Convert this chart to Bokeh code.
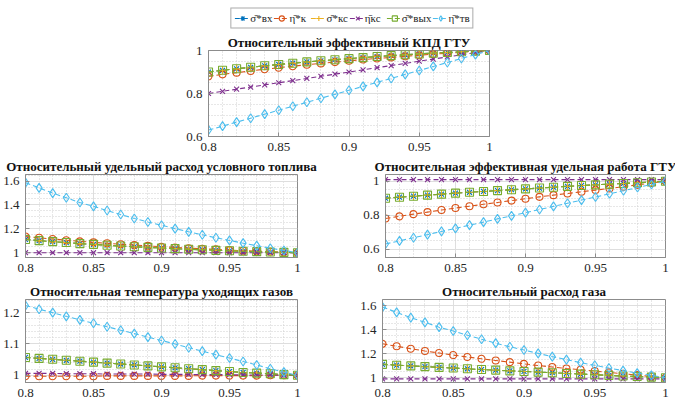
from bokeh.plotting import figure
from bokeh.models import (Range1d, FixedTicker, NumeralTickFormatter, Legend,
                          LegendItem, Title, Spacer)
from bokeh.layouts import column, row
from bokeh.embed import file_html
from bokeh.resources import INLINE

# ---------------- data ----------------
x = [0.80, 0.81, 0.82, 0.83, 0.84, 0.85, 0.86, 0.87, 0.88, 0.89, 0.90,
     0.91, 0.92, 0.93, 0.94, 0.95, 0.96, 0.97, 0.98, 0.99, 1.00]

labels = ["σ̄*вх", "η̄*к", "σ̄*кс", "η̄кс", "σ̄*вых", "η̄*тв"]

# Относительный эффективный КПД ГТУ
eff_sig_vx = [0.900, 0.908, 0.915, 0.922, 0.929, 0.935, 0.941, 0.947, 0.952, 0.957, 0.962,
              0.967, 0.972, 0.976, 0.980, 0.984, 0.988, 0.991, 0.994, 0.997, 1.000]
eff_eta_k = [0.880, 0.889, 0.897, 0.905, 0.913, 0.920, 0.927, 0.934, 0.940, 0.946, 0.952,
             0.958, 0.963, 0.968, 0.973, 0.978, 0.983, 0.987, 0.992, 0.996, 1.000]
eff_sig_ks = [0.900, 0.908, 0.915, 0.922, 0.929, 0.935, 0.941, 0.947, 0.952, 0.957, 0.962,
              0.967, 0.972, 0.976, 0.980, 0.984, 0.988, 0.991, 0.994, 0.997, 1.000]
eff_eta_ks = [0.800, 0.810, 0.820, 0.830, 0.840, 0.850, 0.860, 0.870, 0.880, 0.890, 0.900,
              0.910, 0.920, 0.930, 0.940, 0.950, 0.960, 0.970, 0.980, 0.990, 1.000]
eff_sig_vyh = [0.900, 0.908, 0.915, 0.922, 0.929, 0.935, 0.941, 0.947, 0.952, 0.957, 0.962,
               0.967, 0.972, 0.976, 0.980, 0.984, 0.988, 0.991, 0.994, 0.997, 1.000]
eff_eta_tv = [0.630, 0.648, 0.667, 0.685, 0.704, 0.722, 0.741, 0.759, 0.778, 0.796, 0.815,
              0.833, 0.852, 0.870, 0.889, 0.907, 0.926, 0.944, 0.963, 0.981, 1.000]

# Относительный удельный расход условного топлива
fuel_sig_vx = [1.111, 1.101, 1.093, 1.085, 1.076, 1.070, 1.063, 1.056, 1.050, 1.045, 1.040,
               1.034, 1.029, 1.025, 1.020, 1.016, 1.012, 1.009, 1.006, 1.003, 1.000]
fuel_eta_k = [1.136, 1.125, 1.115, 1.105, 1.095, 1.087, 1.079, 1.071, 1.064, 1.057, 1.050,
              1.044, 1.038, 1.033, 1.028, 1.022, 1.017, 1.013, 1.008, 1.004, 1.000]
fuel_sig_ks = [1.111, 1.101, 1.093, 1.085, 1.076, 1.070, 1.063, 1.056, 1.050, 1.045, 1.040,
               1.034, 1.029, 1.025, 1.020, 1.016, 1.012, 1.009, 1.006, 1.003, 1.000]
fuel_eta_ks = [1.000, 1.000, 1.000, 1.000, 1.000, 1.000, 1.000, 1.000, 1.000, 1.000, 1.000,
               1.000, 1.000, 1.000, 1.000, 1.000, 1.000, 1.000, 1.000, 1.000, 1.000]
fuel_sig_vyh = [1.111, 1.101, 1.093, 1.085, 1.076, 1.070, 1.063, 1.056, 1.050, 1.045, 1.040,
                1.034, 1.029, 1.025, 1.020, 1.016, 1.012, 1.009, 1.006, 1.003, 1.000]
fuel_eta_tv = [1.587, 1.543, 1.499, 1.460, 1.420, 1.388, 1.353, 1.320, 1.287, 1.257, 1.230,
               1.202, 1.175, 1.150, 1.125, 1.103, 1.080, 1.059, 1.038, 1.019, 1.000]

# Относительная эффективная удельная работа ГТУ
work_sig_vx = [0.900, 0.906, 0.912, 0.918, 0.924, 0.930, 0.935, 0.940, 0.945, 0.950, 0.955,
               0.960, 0.965, 0.970, 0.975, 0.979, 0.983, 0.987, 0.991, 0.996, 1.000]
work_eta_k = [0.780, 0.793, 0.806, 0.818, 0.830, 0.842, 0.853, 0.864, 0.875, 0.886, 0.897,
              0.908, 0.918, 0.928, 0.938, 0.948, 0.958, 0.968, 0.979, 0.990, 1.000]
work_sig_ks = [0.900, 0.906, 0.912, 0.918, 0.924, 0.930, 0.935, 0.940, 0.945, 0.950, 0.955,
               0.960, 0.965, 0.970, 0.975, 0.979, 0.983, 0.987, 0.991, 0.996, 1.000]
work_eta_ks = [1.010, 1.010, 1.010, 1.010, 1.010, 1.010, 1.010, 1.010, 1.010, 1.010, 1.010,
               1.010, 1.010, 1.010, 1.010, 1.010, 1.010, 1.010, 1.010, 1.010, 1.010]
work_sig_vyh = [0.900, 0.906, 0.912, 0.918, 0.924, 0.930, 0.935, 0.940, 0.945, 0.950, 0.955,
                0.960, 0.965, 0.970, 0.975, 0.979, 0.983, 0.987, 0.991, 0.996, 1.000]
work_eta_tv = [0.630, 0.648, 0.667, 0.685, 0.704, 0.722, 0.741, 0.759, 0.778, 0.796, 0.815,
               0.833, 0.852, 0.870, 0.889, 0.907, 0.926, 0.944, 0.963, 0.981, 1.000]

# Относительная температура уходящих газов
temp_sig_vx = [1.057, 1.054, 1.051, 1.048, 1.045, 1.042, 1.039, 1.036, 1.033, 1.030, 1.027,
               1.024, 1.021, 1.018, 1.015, 1.012, 1.009, 1.007, 1.005, 1.002, 1.000]
temp_eta_k = [0.997, 0.997, 0.997, 0.997, 0.997, 0.997, 0.998, 0.998, 0.998, 0.998, 0.998,
              0.998, 0.998, 0.999, 0.999, 0.999, 0.999, 0.999, 1.000, 1.000, 1.000]
temp_sig_ks = [1.057, 1.054, 1.051, 1.048, 1.045, 1.042, 1.039, 1.036, 1.033, 1.030, 1.027,
               1.024, 1.021, 1.018, 1.015, 1.012, 1.009, 1.007, 1.005, 1.002, 1.000]
temp_eta_ks = [1.006, 1.006, 1.006, 1.005, 1.005, 1.005, 1.004, 1.004, 1.004, 1.004, 1.003,
               1.003, 1.003, 1.002, 1.002, 1.002, 1.001, 1.001, 1.001, 1.000, 1.000]
temp_sig_vyh = [1.057, 1.054, 1.051, 1.048, 1.045, 1.042, 1.039, 1.036, 1.033, 1.030, 1.027,
                1.024, 1.021, 1.018, 1.015, 1.012, 1.009, 1.007, 1.005, 1.002, 1.000]
temp_eta_tv = [1.223, 1.211, 1.200, 1.188, 1.177, 1.166, 1.155, 1.144, 1.133, 1.122, 1.111,
               1.100, 1.088, 1.077, 1.066, 1.055, 1.044, 1.033, 1.021, 1.010, 1.000]

# Относительный расход газа
flow_sig_vx = [1.111, 1.104, 1.098, 1.092, 1.086, 1.080, 1.074, 1.068, 1.063, 1.057, 1.052,
               1.046, 1.041, 1.035, 1.030, 1.025, 1.019, 1.014, 1.010, 1.005, 1.000]
flow_eta_k = [1.282, 1.261, 1.241, 1.222, 1.205, 1.188, 1.172, 1.157, 1.143, 1.129, 1.115,
              1.101, 1.089, 1.077, 1.066, 1.055, 1.044, 1.033, 1.021, 1.010, 1.000]
flow_sig_ks = [1.111, 1.104, 1.098, 1.092, 1.086, 1.080, 1.074, 1.068, 1.063, 1.057, 1.052,
               1.046, 1.041, 1.035, 1.030, 1.025, 1.019, 1.014, 1.010, 1.005, 1.000]
flow_eta_ks = [0.990, 0.990, 0.990, 0.990, 0.990, 0.990, 0.990, 0.990, 0.990, 0.990, 0.990,
               0.990, 0.990, 0.990, 0.990, 0.990, 0.990, 0.990, 0.990, 0.990, 0.990]
flow_sig_vyh = [1.111, 1.104, 1.098, 1.092, 1.086, 1.080, 1.074, 1.068, 1.063, 1.057, 1.052,
                1.046, 1.041, 1.035, 1.030, 1.025, 1.019, 1.014, 1.010, 1.005, 1.000]
flow_eta_tv = [1.587, 1.543, 1.499, 1.460, 1.420, 1.388, 1.353, 1.320, 1.287, 1.257, 1.230,
               1.202, 1.175, 1.150, 1.125, 1.103, 1.080, 1.059, 1.038, 1.019, 1.000]

x_ticks = [0.8, 0.85, 0.9, 0.95, 1.0]
x_minor = [0.81, 0.82, 0.83, 0.84, 0.86, 0.87, 0.88, 0.89, 0.91, 0.92, 0.93, 0.94,
           0.96, 0.97, 0.98, 0.99]

# ---------------- style ----------------
COLORS = ["#0072BD", "#D95319", "#EDB120", "#7E2F8E", "#77AC30", "#4DBEEE"]
MARKERS = ["asterisk", "circle", "cross", "x", "square", "diamond"]
MSIZE = [7, 7, 8, 7, 8, 9]
SERIF = "Liberation Serif"
TXT = "#262626"
BOX = "#8c8c8c"


def add_series(p, series):
    items = []
    for i, ys in enumerate(series):
        ln = p.line(x, ys, line_color=COLORS[i], line_width=1.1, line_dash="5 3")
        sc = p.scatter(x, ys, marker=MARKERS[i], size=MSIZE[i], line_color=COLORS[i],
                       fill_color=None, line_width=1.1)
        items.append(LegendItem(label=labels[i], renderers=[ln, sc]))
    return items


def make_fig(title, series, yr, yticks, yminor, fw, fh, bl, br, bt, bb):
    p = figure(width=bl + fw + br, height=bt + fh + bb,
               x_range=Range1d(0.8, 1.0), y_range=Range1d(*yr),
               output_backend="svg", toolbar_location=None, title=None,
               min_border_left=bl, min_border_right=br,
               min_border_top=bt, min_border_bottom=bb)
    p.background_fill_color = "white"
    p.border_fill_color = "white"
    p.outline_line_color = BOX
    p.outline_line_width = 1

    add_series(p, series)

    p.xaxis.ticker = FixedTicker(ticks=x_ticks, minor_ticks=x_minor)
    p.yaxis.ticker = FixedTicker(ticks=yticks, minor_ticks=yminor)
    p.xaxis.formatter = NumeralTickFormatter(format="0.[00]")
    p.yaxis.formatter = NumeralTickFormatter(format="0.[00]")
    for ax in (p.xaxis, p.yaxis):
        ax.axis_line_color = BOX
        ax.major_tick_line_color = BOX
        ax.major_tick_in = 4
        ax.major_tick_out = 0
        ax.minor_tick_line_color = None
        ax.major_label_text_font = SERIF
        ax.major_label_text_font_size = "13px"
        ax.major_label_text_color = TXT
        ax.major_label_standoff = 2
    for g in (p.xgrid, p.ygrid):
        g.grid_line_color = "#dedede"
        g.minor_grid_line_color = "#cfcfcf"
        g.minor_grid_line_dash = "1 2"

    t = Title(text=title, align="center", text_font=SERIF, text_font_size="13px",
              text_font_style="bold", text_color="#111111", standoff=2)
    p.add_layout(t, "above")
    return p


# legend strip: its own small canvas above the top chart; the series lie
# outside its visible y-range so only the legend entries are seen
p_leg = figure(width=300, height=29, x_range=Range1d(0, 1), y_range=Range1d(50, 51),
               output_backend="svg", toolbar_location=None, title=None,
               x_axis_type=None, y_axis_type=None,
               min_border_left=0, min_border_right=0, min_border_top=6, min_border_bottom=0)
p_leg.outline_line_color = None
p_leg.xgrid.visible = False
p_leg.ygrid.visible = False
leg_items = add_series(p_leg, [eff_sig_vx, eff_eta_k, eff_sig_ks, eff_eta_ks, eff_sig_vyh, eff_eta_tv])
leg = Legend(items=leg_items, orientation="horizontal", location="center",
             label_text_font=SERIF, label_text_font_size="11px",
             label_text_color=TXT, glyph_width=16, glyph_height=13,
             label_height=13, label_standoff=0, spacing=1, padding=3,
             margin=0, border_line_color="#555555", border_line_width=1,
             background_fill_alpha=1.0)
p_leg.add_layout(leg, "center")

p_top = make_fig("Относительный эффективный КПД ГТУ",
                 [eff_sig_vx, eff_eta_k, eff_sig_ks, eff_eta_ks, eff_sig_vyh, eff_eta_tv],
                 (0.6, 1.0), [0.6, 0.8, 1.0], [0.65, 0.7, 0.75, 0.85, 0.9, 0.95],
                 281, 86, 40, 10, 21, 19)

p_ml = make_fig("Относительный удельный расход условного топлива",
                [fuel_sig_vx, fuel_eta_k, fuel_sig_ks, fuel_eta_ks, fuel_sig_vyh, fuel_eta_tv],
                (0.96, 1.655), [1.0, 1.2, 1.4, 1.6],
                [1.05, 1.1, 1.15, 1.25, 1.3, 1.35, 1.45, 1.5, 1.55, 1.65],
                277, 84, 20, 20, 18, 19)

p_mr = make_fig("Относительная эффективная удельная работа ГТУ",
                [work_sig_vx, work_eta_k, work_sig_ks, work_eta_ks, work_sig_vyh, work_eta_tv],
                (0.55, 1.04), [0.6, 0.8, 1.0], [0.65, 0.7, 0.75, 0.85, 0.9, 0.95],
                280, 84, 30, 10, 18, 19)

p_bl = make_fig("Относительная температура уходящих газов",
                [temp_sig_vx, temp_eta_k, temp_sig_ks, temp_eta_ks, temp_sig_vyh, temp_eta_tv],
                (0.977, 1.242), [1.0, 1.1, 1.2],
                [1.02, 1.04, 1.06, 1.08, 1.12, 1.14, 1.16, 1.18, 1.22, 1.24],
                277, 83, 20, 20, 23, 18)

p_br = make_fig("Относительный расход газа",
                [flow_sig_vx, flow_eta_k, flow_sig_ks, flow_eta_ks, flow_sig_vyh, flow_eta_tv],
                (0.96, 1.65), [1.0, 1.2, 1.4, 1.6],
                [1.05, 1.1, 1.15, 1.25, 1.3, 1.35, 1.45, 1.5, 1.55],
                283, 83, 27, 10, 23, 18)

layout = column(
    row(Spacer(width=202, height=10), p_leg),
    row(Spacer(width=168, height=10), p_top),
    row(p_ml, Spacer(width=38, height=10), p_mr),
    row(p_bl, Spacer(width=38, height=10), p_br),
)

open("out.html", "w").write(file_html(layout, INLINE))
